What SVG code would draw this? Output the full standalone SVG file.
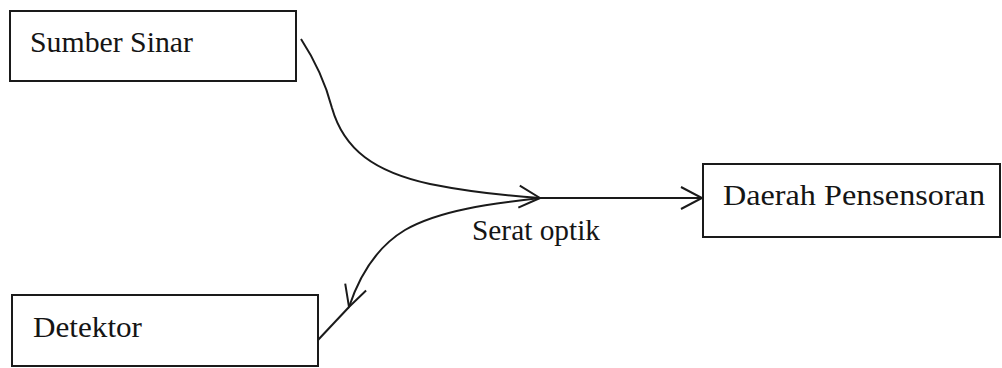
<svg xmlns="http://www.w3.org/2000/svg" width="1002" height="368" viewBox="0 0 1002 368">
  <style>
    .box { fill: none; stroke: #1a1a1a; stroke-width: 2; }
    .lbl { font-family: "Liberation Serif", "Times New Roman", serif; font-size: 30px; fill: #151515; }
    .conn { fill: none; stroke: #1a1a1a; stroke-width: 2; }
  </style>
  <defs>
    <marker id="arr" markerUnits="userSpaceOnUse" markerWidth="30" markerHeight="30" viewBox="-25 -15 30 30" refX="0" refY="0" orient="auto">
      <path d="M-21,-11 L0,0 L-21,11" fill="none" stroke="#1a1a1a" stroke-width="2"/>
    </marker>
  </defs>
  <rect x="0" y="0" width="1002" height="368" fill="#ffffff"/>
  <g id="sumber-sinar">
    <rect class="box" x="10" y="11" width="286" height="70"/>
    <text class="lbl" x="30" y="52" textLength="163" lengthAdjust="spacingAndGlyphs">Sumber Sinar</text>
  </g>
  <g id="daerah-pensensoran">
    <rect class="box" x="703" y="164" width="297" height="73"/>
    <text class="lbl" x="723" y="205" textLength="262" lengthAdjust="spacingAndGlyphs">Daerah Pensensoran</text>
  </g>
  <g id="detektor">
    <rect class="box" x="12" y="295" width="306" height="71"/>
    <text class="lbl" x="33" y="337" textLength="109" lengthAdjust="spacingAndGlyphs">Detektor</text>
  </g>
  <g id="connectors">
    <path class="conn" d="M301,39 C318,65 326,85 332,108 C344,150 375,172 430,184 C470,192 510,196 540,198" marker-end="url(#arr)"/>
    <path class="conn" d="M540,198 L702,198" marker-end="url(#arr)"/>
    <path class="conn" d="M540,198 C490,204 440,210 405,230 C375,248 358,280 349,307" marker-end="url(#arr)"/>
    <path class="conn" d="M349,307 L318,340"/>
    <text class="lbl" x="472" y="240" textLength="128" lengthAdjust="spacingAndGlyphs">Serat optik</text>
  </g>
</svg>
